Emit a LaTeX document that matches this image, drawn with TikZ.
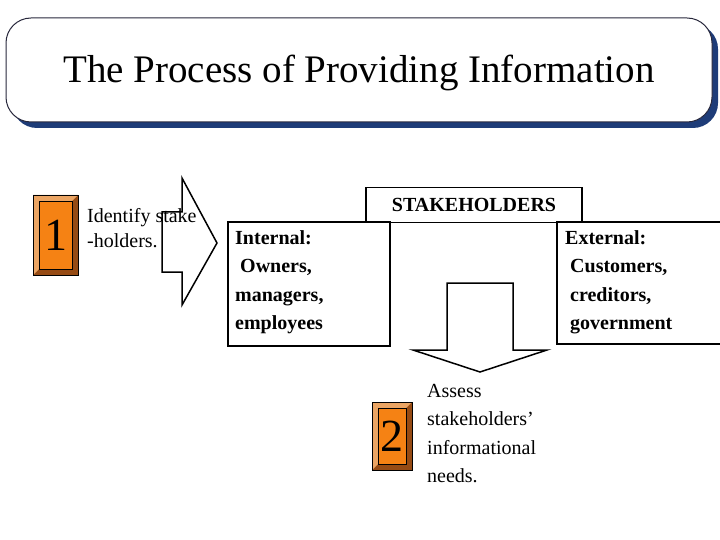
\documentclass[tikz,border=0pt]{standalone}
\usepackage{fontspec}
\setmainfont{Liberation Serif}
\definecolor{shadowblue}{RGB}{30,60,120}
\definecolor{titleedge}{RGB}{40,40,60}
\definecolor{tiledark}{RGB}{150,75,20}
\definecolor{tilelight}{RGB}{235,165,100}
\definecolor{tileorange}{RGB}{245,130,20}
\begin{document}
\begin{tikzpicture}[x=1pt,y=-1pt,
  bx/.style={draw=black,line width=1.5pt,fill=white},
  txt/.style={font=\fontsize{20}{25}\selectfont,align=left,anchor=north west,inner sep=0pt},
  btxt/.style={txt,font=\fontsize{20}{28.5}\selectfont\bfseries}]
\useasboundingbox (0,0) rectangle (720,540);
% title
\fill[shadowblue,rounded corners=25pt] (12,24) rectangle (718,128);
\draw[fill=white,draw=titleedge,line width=1pt,rounded corners=25pt] (6,18) rectangle (712,122);
\node (title) at (359,73) {\fontsize{39}{40}\selectfont The Process of Providing Information};
\newcommand{\tile}[5]{%
 \fill[tiledark] (#1,#2) rectangle (#3,#4);
 \fill[tilelight] (#1,#2) -- (#3,#2) -- ({#3-6},{#2+6}) -- ({#1+6},{#4-6}) -- (#1,#4) -- cycle;
 \fill[tileorange] ({#1+6},{#2+6}) rectangle ({#3-6},{#4-6});
 \draw[black,line width=0.6pt] (#1,#2) rectangle (#3,#4);
 \draw[black,line width=0.4pt] ({#1+6},{#2+6}) rectangle ({#3-6},{#4-6});
 \node at ({(#1+#3)/2},{(#2+#4)/2}) {\fontsize{46}{46}\selectfont #5};}
\tile{33}{195}{78}{275}{1}
\node[txt] (t1) at (87,208) {Identify stake\\-holders.};
% right arrow
\draw[line width=1.5pt] (162,212) -- (182,212) -- (182,178) -- (217,243) -- (182,305) -- (182,272) -- (162,272) -- cycle;
% boxes
\node[bx,minimum width=216,minimum height=35,inner sep=0pt] (stk) at (474,205) {\fontsize{20}{24}\selectfont\bfseries STAKEHOLDERS};
\draw[bx] (228,222) rectangle (390,346);
\node[btxt] (int) at (235,230) {Internal:\\\ Owners,\\managers,\\employees};
\draw[bx] (557,222) rectangle (725,344);
\node[btxt] (ext) at (565,230) {External:\\\ Customers,\\\ creditors,\\\ government};
% down arrow
\draw[line width=1.5pt,fill=white] (447,283) -- (513,283) -- (513,350) -- (547,350) -- (480,372) -- (413,350) -- (447,350) -- cycle;
\tile{372}{402}{412}{470}{2}
\node[txt,font=\fontsize{20}{28.5}\selectfont] (t2) at (427,384) {Assess\\stakeholders’\\informational\\needs.};
\end{tikzpicture}
\end{document}
